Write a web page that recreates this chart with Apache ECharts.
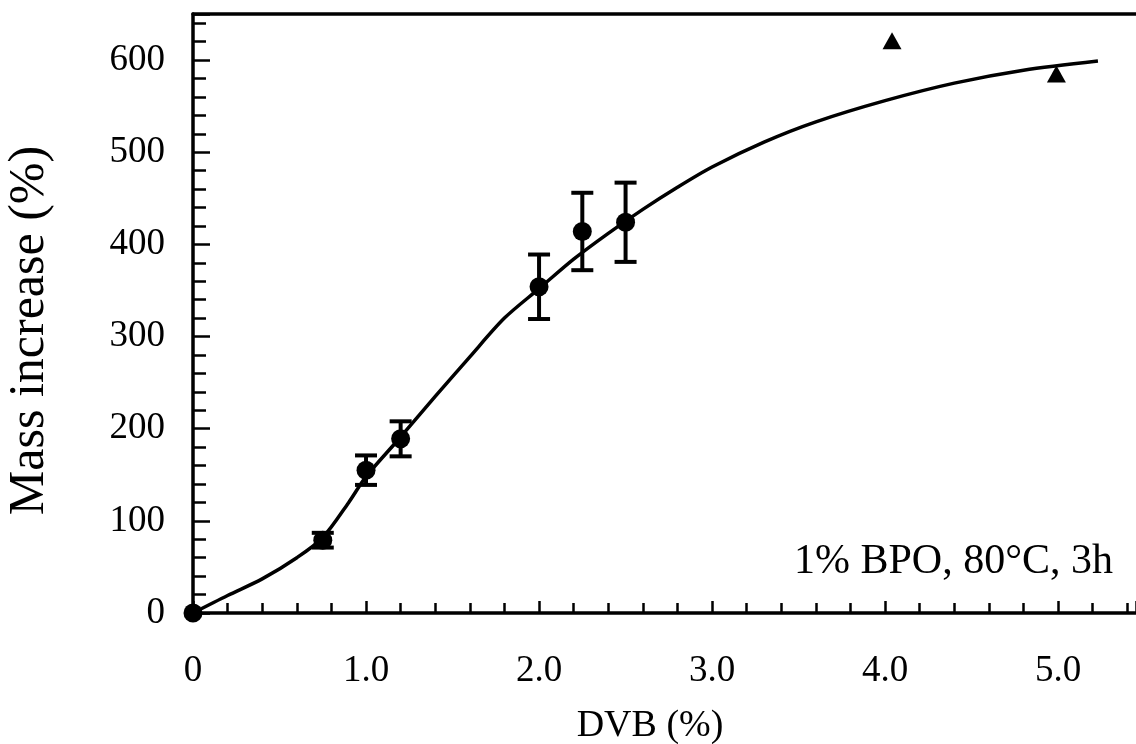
<!DOCTYPE html>
<html>
<head>
<meta charset="utf-8">
<script src="https://cdn.jsdelivr.net/npm/echarts@6/dist/echarts.min.js"></script>
<style>
html,body{margin:0;padding:0;background:#fff;}
#c{width:1136px;height:744px;}
</style>
</head>
<body>
<div id="c"></div>
<script>
// Measured points with error bars: [DVB %, mass increase %, error]
var circlePoints = [[0, 0, 0], [0.75, 79, 8], [1.0, 155, 16], [1.2, 189, 19], [2.0, 354, 35], [2.25, 414, 42], [2.5, 424, 43]];
// Triangle points
var trianglePoints = [[4.04, 621], [4.99, 585]];
// Fitted curve
var curvePoints = [[0, 0], [0.2, 19], [0.4, 37], [0.6, 60], [0.75, 82], [0.9, 120], [1.0, 148], [1.2, 191], [1.4, 235], [1.6, 278], [1.8, 320], [2.0, 352], [2.2, 384], [2.4, 412], [2.6, 438], [2.8, 462], [3.0, 484], [3.3, 511], [3.6, 533], [4.0, 556], [4.4, 575], [4.8, 589], [5.23, 599]];
var annotation = '1% BPO, 80°C, 3h';

var serif = 'Liberation Serif';
var chart = echarts.init(document.getElementById('c'));
var xCommon = {type: 'value', min: 0, max: 5.45};
var yCommon = {type: 'value', min: 0, max: 650, position: 'left'};
function isWhole(v) { return Math.abs(v - Math.round(v)) < 1e-6; }
chart.setOption({
  animation: false,
  backgroundColor: '#fff',
  grid: {left: 193, right: 0, top: 14, bottom: 131, show: false, containLabel: false, outerBoundsMode: 'none'},
  xAxis: [
    Object.assign({}, xCommon, {
      position: 'bottom',
      interval: 1,
      name: 'DVB (%)', nameLocation: 'middle', nameGap: 94,
      nameTextStyle: {fontFamily: serif, fontSize: 38, color: '#000', padding: [0, 29, 0, 0]},
      axisLine: {show: true, lineStyle: {color: '#000', width: 3.5}},
      axisTick: {show: true, inside: true, length: 12, lineStyle: {color: '#000', width: 2.5}},
      axisLabel: {show: true, margin: 40, fontFamily: serif, fontSize: 37, color: '#000',
        formatter: function (v) { if (!isWhole(v)) return ''; return v === 0 ? '0' : v.toFixed(1); }},
      splitLine: {show: false}
    }),
    Object.assign({}, xCommon, {
      position: 'bottom',
      interval: 0.2,
      axisLine: {show: false},
      axisTick: {show: true, inside: true, length: 10, lineStyle: {color: '#000', width: 2.5}},
      axisLabel: {show: false},
      splitLine: {show: false}
    }),
    Object.assign({}, xCommon, {
      position: 'top',
      axisLine: {show: true, lineStyle: {color: '#000', width: 3.5}},
      axisTick: {show: false},
      axisLabel: {show: false},
      splitLine: {show: false}
    })
  ],
  yAxis: [
    Object.assign({}, yCommon, {
      interval: 100,
      name: 'Mass increase (%)', nameLocation: 'middle', nameGap: 138, nameRotate: 90,
      nameTextStyle: {fontFamily: serif, fontSize: 50, color: '#000', padding: [0, 34, 0, 0]},
      axisLine: {show: true, lineStyle: {color: '#000', width: 3.5}},
      axisTick: {show: true, inside: true, length: 17, lineStyle: {color: '#000', width: 2.5}},
      axisLabel: {show: true, margin: 28, fontFamily: serif, fontSize: 37, color: '#000',
        formatter: function (v) { return v > 600 ? '' : String(v); }},
      splitLine: {show: false}
    }),
    Object.assign({}, yCommon, {
      interval: 20,
      axisLine: {show: false},
      axisTick: {show: true, inside: true, length: 13, lineStyle: {color: '#000', width: 2.5}},
      axisLabel: {show: false},
      splitLine: {show: false}
    })
  ],
  graphic: [{
    type: 'text', right: 23, top: 541,
    style: {text: annotation, fontFamily: serif, fontSize: 42, fill: '#000'}
  }],
  series: [
    {
      type: 'line', xAxisIndex: 0, yAxisIndex: 0, data: curvePoints,
      smooth: 0.3, showSymbol: false, symbol: 'none',
      lineStyle: {color: '#000', width: 3.5}, z: 2
    },
    {
      type: 'custom', xAxisIndex: 0, yAxisIndex: 0, data: circlePoints, z: 3,
      renderItem: function (params, api) {
        var x = api.value(0), y = api.value(1), e = api.value(2);
        if (!e) return {type: 'group', children: []};
        var t = api.coord([x, y + e]), b = api.coord([x, y - e]);
        var hw = 11;
        var st = {stroke: '#000', lineWidth: 4};
        return {type: 'group', children: [
          {type: 'line', shape: {x1: t[0], y1: t[1], x2: b[0], y2: b[1]}, style: st},
          {type: 'line', shape: {x1: t[0] - hw, y1: t[1], x2: t[0] + hw, y2: t[1]}, style: st},
          {type: 'line', shape: {x1: b[0] - hw, y1: b[1], x2: b[0] + hw, y2: b[1]}, style: st}
        ]};
      }
    },
    {
      type: 'scatter', xAxisIndex: 0, yAxisIndex: 0, data: circlePoints.map(function (p) { return [p[0], p[1]]; }),
      symbol: 'circle', symbolSize: 19, itemStyle: {color: '#000', opacity: 1}, z: 4, clip: false
    },
    {
      type: 'scatter', xAxisIndex: 0, yAxisIndex: 0, data: trianglePoints,
      symbol: 'triangle', symbolSize: [19, 17], itemStyle: {color: '#000', opacity: 1}, z: 4
    }
  ]
});
</script>
</body>
</html>
